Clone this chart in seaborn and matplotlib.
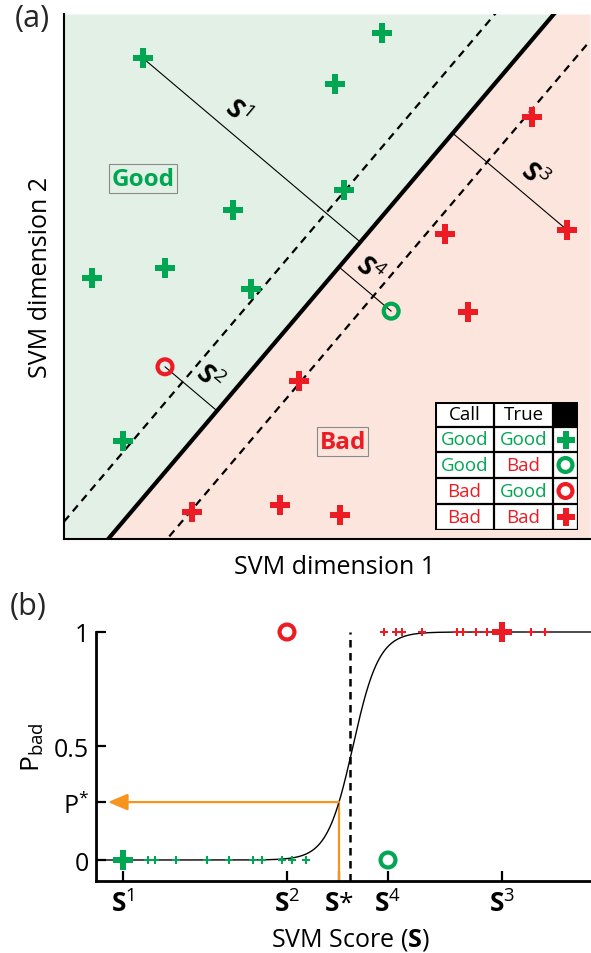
import numpy as np
import matplotlib
matplotlib.use("Agg")
import matplotlib.pyplot as plt
import seaborn as sns

sns.set_theme(style="white")
plt.rcParams['font.family'] = ['Open Sans', 'DejaVu Sans']
plt.rcParams['mathtext.fontset'] = 'custom'
plt.rcParams['mathtext.rm'] = 'Open Sans'
plt.rcParams['mathtext.it'] = 'Open Sans:italic'
plt.rcParams['mathtext.bf'] = 'Open Sans:bold'
plt.rcParams['mathtext.sf'] = 'Open Sans'

GREEN = '#00a651'
RED = '#ed1c24'
ORANGE = '#f7941d'
BG_GOOD = '#e3f0e5'
BG_BAD = '#fbe5dc'

# ---------------- (a) samples in SVM feature space ----------------
good_plus_d1 = [1.50, 6.05, 5.15, 5.32, 3.21, 1.92, 0.53, 3.56, 1.12]
good_plus_d2 = [9.16, 9.64, 8.67, 6.65, 6.27, 5.16, 4.97, 4.76, 1.87]
bad_plus_d1 = [8.90, 9.56, 7.24, 7.68, 4.47, 2.43, 4.11, 5.25]
bad_plus_d2 = [8.04, 5.89, 5.81, 4.32, 3.01, 0.51, 0.65, 0.46]
red_ring_d1 = [1.92]
red_ring_d2 = [3.28]
green_ring_d1 = [6.22]
green_ring_d2 = [4.34]

# hyperplane: dim2 = slope * (dim1 - x_cross); margins shifted by +/- margin_dx
slope = 1.18
x_cross = 0.84
margin_dx = 1.12

# samples whose distance to the hyperplane is drawn (S1..S4)
dist_names = ['1', '2', '3', '4']
dist_d1 = [1.50, 1.92, 9.56, 6.22]
dist_d2 = [9.16, 3.28, 5.89, 4.34]
dist_label_d1 = [3.27, 2.74, 8.92, 5.80]
dist_label_d2 = [8.13, 3.07, 6.91, 5.12]

# legend table
table_call = ['Good', 'Good', 'Bad', 'Bad']
table_true = ['Good', 'Bad', 'Good', 'Bad']
table_marker = ['P', 'o', 'o', 'P']
table_color = [GREEN, GREEN, RED, RED]

# ---------------- (b) SVM score vs probability of bad ----------------
score_good = [-2.02, -1.95, -1.74, -1.43, -1.21, -0.97, -0.88, -0.68, -0.58, -0.44]
score_bad = [0.34, 0.46, 0.52, 0.72, 1.07, 1.13, 1.26, 1.37, 1.81, 1.95]
s1, s2, s_star, s4, s3 = -2.27, -0.63, -0.11, 0.38, 1.52
s_threshold = 0.0
curve_mid = 0.03
s_width = 0.13
tick_scores = [s1, s2, s_star, s4, s3]
tick_labels = [r'$\mathbf{S}^{\mathrm{1}}$', r'$\mathbf{S}^{\mathrm{2}}$',
               r'$\mathbf{S}$*', r'$\mathbf{S}^{\mathrm{4}}$',
               r'$\mathbf{S}^{\mathrm{3}}$']


def p_bad(s):
    return 1.0 / (1.0 + np.exp(-(np.asarray(s) - curve_mid) / s_width))


p_star = float(p_bad(s_star))

W, H = 591, 954
fig = plt.figure(figsize=(W / 100, H / 100), dpi=100)
fig.patch.set_facecolor('white')


def px_axes(x0, y0, x1, y1):
    return fig.add_axes([x0 / W, 1 - y1 / H, (x1 - x0) / W, (y1 - y0) / H])


# ================= panel (a) =================
ax = px_axes(64, 15, 590, 540)
ax.set_xlim(0, 10)
ax.set_ylim(0, 10)
xg = np.linspace(0, 10, 2001)
yb = np.clip(slope * (xg - x_cross), 0, 10)
ax.fill_between(xg, yb, 10, color=BG_GOOD, lw=0, zorder=0)
ax.fill_between(xg, 0, yb, color=BG_BAD, lw=0, zorder=0)

ax.plot(xg, slope * (xg - x_cross), color='black', lw=3.0, zorder=2, solid_capstyle='butt')
for sgn in (-1, 1):
    ax.plot(xg, slope * (xg - x_cross - sgn * margin_dx), color='black', lw=1.6,
            ls=(0, (3.5, 2.6)), zorder=2)

# perpendicular distances to the hyperplane
nrm = np.array([1.0, slope]) / np.hypot(1.0, slope)
for name, px, py, lx, ly in zip(dist_names, dist_d1, dist_d2, dist_label_d1, dist_label_d2):
    v = np.array([px - x_cross, py])
    foot = np.array([x_cross, 0.0]) + v.dot(nrm) * nrm
    ax.plot([px, foot[0]], [py, foot[1]], color='black', lw=0.8, zorder=2)
    ax.text(lx, ly, r'$\mathbf{S}^{\mathrm{%s}}$' % name, fontsize=19, rotation=-40,
            rotation_mode='anchor', ha='center', va='center', color='black', zorder=4)

sns.scatterplot(x=good_plus_d1, y=good_plus_d2, marker='P', s=190, color=GREEN,
                linewidth=0, ax=ax, zorder=3)
sns.scatterplot(x=bad_plus_d1, y=bad_plus_d2, marker='P', s=190, color=RED,
                linewidth=0, ax=ax, zorder=3)
sns.scatterplot(x=red_ring_d1, y=red_ring_d2, marker='o', s=115, facecolor='none',
                edgecolor=RED, linewidth=3.0, ax=ax, zorder=3)
sns.scatterplot(x=green_ring_d1, y=green_ring_d2, marker='o', s=115, facecolor='none',
                edgecolor=GREEN, linewidth=3.0, ax=ax, zorder=3)

ax.text(1.51, 6.86, 'Good', color=GREEN, fontsize=17.5, fontweight='bold', ha='center',
        va='center', zorder=4,
        bbox=dict(boxstyle='square,pad=0.1', fc=BG_GOOD, ec='#8a8a8a', lw=0.8))
ax.text(5.30, 1.85, 'Bad', color=RED, fontsize=17.5, fontweight='bold', ha='center',
        va='center', zorder=4,
        bbox=dict(boxstyle='square,pad=0.1', fc=BG_BAD, ec='#8a8a8a', lw=0.8))

ax.set_xticks([])
ax.set_yticks([])
for side in ('top', 'right'):
    ax.spines[side].set_visible(False)
for side in ('left', 'bottom'):
    ax.spines[side].set_color('black')
    ax.spines[side].set_linewidth(1.5)
ax.set_xlabel('SVM dimension 1', fontsize=18, color='black')
ax.xaxis.label.set_va('baseline')
ax.xaxis.set_label_coords(0.515, -0.065)
ax.set_ylabel('SVM dimension 2', fontsize=18, color='black')
ax.yaxis.label.set_va('baseline')
ax.yaxis.set_label_coords(-0.032, 0.5)

# legend table
tab = px_axes(435, 403, 578, 531)
tab.set_xlim(0, 143)
tab.set_ylim(128, 0)
tab.axis('off')
col_edges = [0, 59, 118, 143]
row_edges = [0, 25, 50, 76, 102, 128]
tab.add_patch(plt.Rectangle((0, 0), 143, 128, fc='white', ec='none', zorder=0))
tab.add_patch(plt.Rectangle((118, 0), 25, 25, fc='black', ec='none', zorder=1))
tab.hlines(row_edges, 0, 143, color='black', lw=1.6, zorder=2)
tab.vlines(col_edges, 0, 128, color='black', lw=1.6, zorder=2)
tab.add_patch(plt.Rectangle((0, 0), 143, 128, fc='none', ec='black', lw=2.2, zorder=3))
tab.text(29.5, 12.5, 'Call', fontsize=13.5, ha='center', va='center', color='black')
tab.text(88.5, 12.5, 'True', fontsize=13.5, ha='center', va='center', color='black')
word_color = {'Good': GREEN, 'Bad': RED}
row_mid = [(row_edges[i] + row_edges[i + 1]) / 2 for i in range(1, 5)]
for ym, c, t in zip(row_mid, table_call, table_true):
    tab.text(29.5, ym, c, fontsize=13.5, ha='center', va='center', color=word_color[c])
    tab.text(88.5, ym, t, fontsize=13.5, ha='center', va='center', color=word_color[t])
for ym, mk, col in zip(row_mid, table_marker, table_color):
    if mk == 'P':
        sns.scatterplot(x=[130.5], y=[ym], marker='P', s=175, color=col, linewidth=0,
                        ax=tab, zorder=4, clip_on=False)
    else:
        sns.scatterplot(x=[130.5], y=[ym], marker='o', s=100, facecolor='none',
                        edgecolor=col, linewidth=3.0, ax=tab, zorder=4, clip_on=False)

fig.text(32 / W, 1 - 19 / H, '(a)', fontsize=22, ha='center', va='center')

# ================= panel (b) =================
bx = px_axes(96, 620, 591, 882)
x_lo, x_hi = -2.54, 2.41
y_lo, y_hi = -0.092, 1.057
bx.set_xlim(x_lo, x_hi)
bx.set_ylim(y_lo, y_hi)

s_grid = np.linspace(x_lo, x_hi, 800)
sns.lineplot(x=s_grid, y=p_bad(s_grid), color='black', lw=1.0, ax=bx, zorder=2,
             estimator=None, sort=False)
bx.plot([s_threshold, s_threshold], [y_lo, 1.0], color='black', lw=1.8,
        ls=(0, (3, 2.2)), zorder=2)

# threshold probability
bx.plot([s_star, s_star], [y_lo, p_star], color=ORANGE, lw=1.6, zorder=1.5)
bx.annotate('', xy=(x_lo + 0.12, p_star), xytext=(s_star, p_star),
            arrowprops=dict(arrowstyle='-|>,head_length=0.8,head_width=0.34',
                            color=ORANGE, lw=1.6, shrinkA=0, shrinkB=0,
                            mutation_scale=15), zorder=2)

sns.scatterplot(x=score_good, y=np.zeros(len(score_good)), marker='P', s=40,
                color=GREEN, linewidth=0, ax=bx, zorder=3)
sns.scatterplot(x=score_bad, y=np.ones(len(score_bad)), marker='P', s=40,
                color=RED, linewidth=0, ax=bx, zorder=3)
sns.scatterplot(x=[s1], y=[0], marker='P', s=195, color=GREEN, linewidth=0, ax=bx,
                zorder=3)
sns.scatterplot(x=[s3], y=[1], marker='P', s=195, color=RED, linewidth=0, ax=bx,
                zorder=3)
sns.scatterplot(x=[s2], y=[1], marker='o', s=115, facecolor='none', edgecolor=RED,
                linewidth=3.0, ax=bx, zorder=3, clip_on=False)
sns.scatterplot(x=[s4], y=[0], marker='o', s=115, facecolor='none', edgecolor=GREEN,
                linewidth=3.0, ax=bx, zorder=3)

bx.set_xticks(tick_scores)
bx.set_xticklabels(tick_labels)
bx.set_yticks([0, p_star, 0.5, 1])
bx.set_yticklabels(['0', r'P$^{*}$', '0.5', '1'])
bx.tick_params(axis='both', direction='in', length=7.2, width=1.6, colors='black',
               bottom=True, left=True)
bx.tick_params(axis='x', pad=7, labelsize=19)
bx.tick_params(axis='y', pad=5, labelsize=18)
for side in ('top', 'right'):
    bx.spines[side].set_visible(False)
for side in ('left', 'bottom'):
    bx.spines[side].set_color('black')
    bx.spines[side].set_linewidth(2.0)
bx.spines['left'].set_bounds(y_lo, 1.0)

bx.set_xlabel(r'SVM Score ($\mathbf{S}$)', fontsize=18, color='black')
bx.xaxis.label.set_va('baseline')
bx.xaxis.set_label_coords((350 - 96) / 495, -(947 - 882) / 262)
bx.set_ylabel(r'P$_{\mathrm{bad}}$', fontsize=19, color='black')
bx.yaxis.label.set_va('baseline')
bx.yaxis.set_label_coords((40 - 96) / 495, (882 - 747) / 262)

fig.text(28 / W, 1 - 607 / H, '(b)', fontsize=22, ha='center', va='center')

fig.savefig('out.png', dpi=100, facecolor='white')
